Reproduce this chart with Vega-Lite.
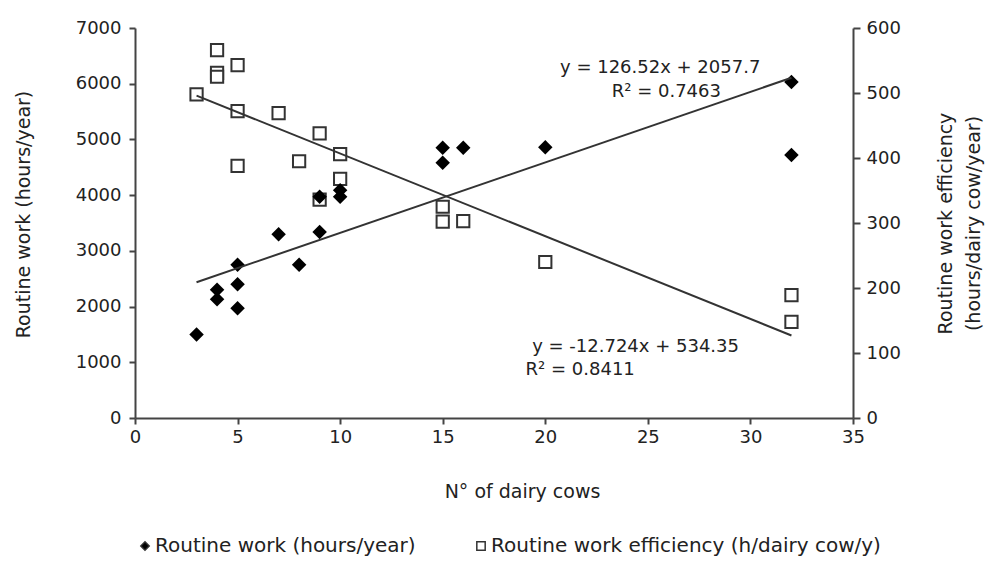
{
  "$schema": "https://vega.github.io/schema/vega-lite/v6.json",
  "width": 718,
  "height": 390,
  "autosize": {"type": "none"},
  "padding": {"left": 135, "top": 28, "right": 133, "bottom": 145},
  "background": "white",
  "config": {
    "font": "DejaVu Sans",
    "view": {"stroke": null},
    "axis": {
      "grid": false,
      "domainColor": "#444",
      "domainWidth": 2,
      "tickColor": "#444",
      "tickWidth": 2,
      "tickSize": 6,
      "labelFontSize": 18,
      "labelColor": "#222",
      "labelFlush": false,
      "titleFontSize": 19,
      "titleFontWeight": "normal",
      "titleColor": "#222",
      "format": "d"
    },
    "legend": {"labelFontSize": 20, "labelColor": "#222"}
  },
  "datasets": {
    "work": [
      {"cows": 3, "value": 1500, "series": "Routine work (hours/year)"},
      {"cows": 4, "value": 2300, "series": "Routine work (hours/year)"},
      {"cows": 4, "value": 2130, "series": "Routine work (hours/year)"},
      {"cows": 5, "value": 2750, "series": "Routine work (hours/year)"},
      {"cows": 5, "value": 2400, "series": "Routine work (hours/year)"},
      {"cows": 5, "value": 1970, "series": "Routine work (hours/year)"},
      {"cows": 7, "value": 3300, "series": "Routine work (hours/year)"},
      {"cows": 8, "value": 2750, "series": "Routine work (hours/year)"},
      {"cows": 9, "value": 3340, "series": "Routine work (hours/year)"},
      {"cows": 9, "value": 3970, "series": "Routine work (hours/year)"},
      {"cows": 10, "value": 3970, "series": "Routine work (hours/year)"},
      {"cows": 10, "value": 4090, "series": "Routine work (hours/year)"},
      {"cows": 15, "value": 4850, "series": "Routine work (hours/year)"},
      {"cows": 15, "value": 4580, "series": "Routine work (hours/year)"},
      {"cows": 16, "value": 4850, "series": "Routine work (hours/year)"},
      {"cows": 20, "value": 4860, "series": "Routine work (hours/year)"},
      {"cows": 32, "value": 6030, "series": "Routine work (hours/year)"},
      {"cows": 32, "value": 4720, "series": "Routine work (hours/year)"}
    ],
    "eff": [
      {"cows": 3, "value": 498, "series": "Routine work efficiency (h/dairy cow/y)"},
      {"cows": 4, "value": 566, "series": "Routine work efficiency (h/dairy cow/y)"},
      {"cows": 4, "value": 531, "series": "Routine work efficiency (h/dairy cow/y)"},
      {"cows": 4, "value": 525, "series": "Routine work efficiency (h/dairy cow/y)"},
      {"cows": 5, "value": 543, "series": "Routine work efficiency (h/dairy cow/y)"},
      {"cows": 5, "value": 472, "series": "Routine work efficiency (h/dairy cow/y)"},
      {"cows": 5, "value": 388, "series": "Routine work efficiency (h/dairy cow/y)"},
      {"cows": 7, "value": 469, "series": "Routine work efficiency (h/dairy cow/y)"},
      {"cows": 8, "value": 395, "series": "Routine work efficiency (h/dairy cow/y)"},
      {"cows": 9, "value": 438, "series": "Routine work efficiency (h/dairy cow/y)"},
      {"cows": 9, "value": 336, "series": "Routine work efficiency (h/dairy cow/y)"},
      {"cows": 10, "value": 406, "series": "Routine work efficiency (h/dairy cow/y)"},
      {"cows": 10, "value": 368, "series": "Routine work efficiency (h/dairy cow/y)"},
      {"cows": 15, "value": 325, "series": "Routine work efficiency (h/dairy cow/y)"},
      {"cows": 15, "value": 302, "series": "Routine work efficiency (h/dairy cow/y)"},
      {"cows": 16, "value": 303, "series": "Routine work efficiency (h/dairy cow/y)"},
      {"cows": 20, "value": 240, "series": "Routine work efficiency (h/dairy cow/y)"},
      {"cows": 32, "value": 189, "series": "Routine work efficiency (h/dairy cow/y)"},
      {"cows": 32, "value": 148, "series": "Routine work efficiency (h/dairy cow/y)"}
    ],
    "trendWork": [
      {"cows": 3, "value": 2437},
      {"cows": 32, "value": 6106}
    ],
    "trendEff": [
      {"cows": 3, "value": 496},
      {"cows": 32, "value": 127}
    ],
    "labels": [
      {"cows": 25.6, "value": 6282, "text": "y = 126.52x + 2057.7"},
      {"cows": 25.9, "value": 5852, "text": "R² = 0.7463"},
      {"cows": 24.4, "value": 1274, "text": "y = -12.724x + 534.35"},
      {"cows": 21.7, "value": 862, "text": "R² = 0.8411"}
    ]
  },
  "layer": [
    {
      "layer": [
        {
          "data": {"name": "eff"},
          "mark": {"type": "point", "filled": true, "strokeWidth": 2, "stroke": "#333", "opacity": 1},
          "encoding": {
            "x": {"field": "cows", "type": "quantitative"},
            "y": {"field": "value", "type": "quantitative"},
            "shape": {"field": "series", "type": "nominal"},
            "fill": {"field": "series", "type": "nominal"},
            "size": {"value": 150}
          }
        },
        {
          "data": {"name": "trendEff"},
          "mark": {"type": "line", "color": "#333", "strokeWidth": 2},
          "encoding": {
            "x": {"field": "cows", "type": "quantitative"},
            "y": {"field": "value", "type": "quantitative"}
          }
        }
      ],
      "encoding": {
        "y": {
          "field": "value",
          "type": "quantitative",
          "scale": {"domain": [0, 600], "nice": false},
          "axis": {
            "orient": "right",
            "values": [0, 100, 200, 300, 400, 500, 600],
            "title": ["Routine work efficiency", "(hours/dairy cow/year)"],
            "titleAngle": -90,
            "titlePadding": 27,
            "titleLineHeight": 28,
            "labelPadding": 6,
            "tickSize": 7,
            "tickWidth": 2
          }
        }
      }
    },
    {
      "layer": [
        {
          "data": {"name": "work"},
          "mark": {"type": "point", "filled": true, "opacity": 1},
          "encoding": {
            "x": {"field": "cows", "type": "quantitative"},
            "y": {"field": "value", "type": "quantitative"},
            "shape": {
              "field": "series",
              "type": "nominal",
              "scale": {
                "domain": ["Routine work (hours/year)", "Routine work efficiency (h/dairy cow/y)"],
                "range": ["diamond", "square"]
              },
              "legend": {
                "orient": "none",
                "direction": "horizontal",
                "legendX": 0,
                "legendY": 508,
                "title": null,
                "symbolSize": 70,
                "symbolStrokeColor": "#222",
                "symbolStrokeWidth": 1.5,
                "columnPadding": 55,
                "labelOffset": 0,
                "labelLimit": 600
              }
            },
            "fill": {
              "field": "series",
              "type": "nominal",
              "scale": {
                "domain": ["Routine work (hours/year)", "Routine work efficiency (h/dairy cow/y)"],
                "range": ["#000000", "#ffffff"]
              },
              "legend": {
                "orient": "none",
                "direction": "horizontal",
                "legendX": 0,
                "legendY": 508,
                "title": null,
                "symbolSize": 70,
                "symbolStrokeColor": "#222",
                "symbolStrokeWidth": 1.5,
                "columnPadding": 55,
                "labelOffset": 0,
                "labelLimit": 600
              }
            },
            "size": {"value": 210}
          }
        },
        {
          "data": {"name": "trendWork"},
          "mark": {"type": "line", "color": "#333", "strokeWidth": 2},
          "encoding": {
            "x": {"field": "cows", "type": "quantitative"},
            "y": {"field": "value", "type": "quantitative"}
          }
        },
        {
          "data": {"name": "labels"},
          "mark": {"type": "text", "fontSize": 18, "color": "#222", "align": "center", "baseline": "middle"},
          "encoding": {
            "x": {"field": "cows", "type": "quantitative"},
            "y": {"field": "value", "type": "quantitative"},
            "text": {"field": "text"}
          }
        }
      ],
      "encoding": {
        "x": {
          "field": "cows",
          "type": "quantitative",
          "scale": {"domain": [0, 35], "nice": false},
          "axis": {
            "values": [0, 5, 10, 15, 20, 25, 30, 35],
            "title": "N° of dairy cows",
            "titlePadding": 36,
            "titleX": 387,
            "labelPadding": 4
          }
        },
        "y": {
          "field": "value",
          "type": "quantitative",
          "scale": {"domain": [0, 7000], "nice": false},
          "axis": {
            "orient": "left",
            "values": [0, 1000, 2000, 3000, 4000, 5000, 6000, 7000],
            "title": "Routine work (hours/year)",
            "titlePadding": 42,
            "titleY": 186,
            "labelPadding": 8
          }
        }
      }
    }
  ],
  "resolve": {"scale": {"y": "independent"}}
}
